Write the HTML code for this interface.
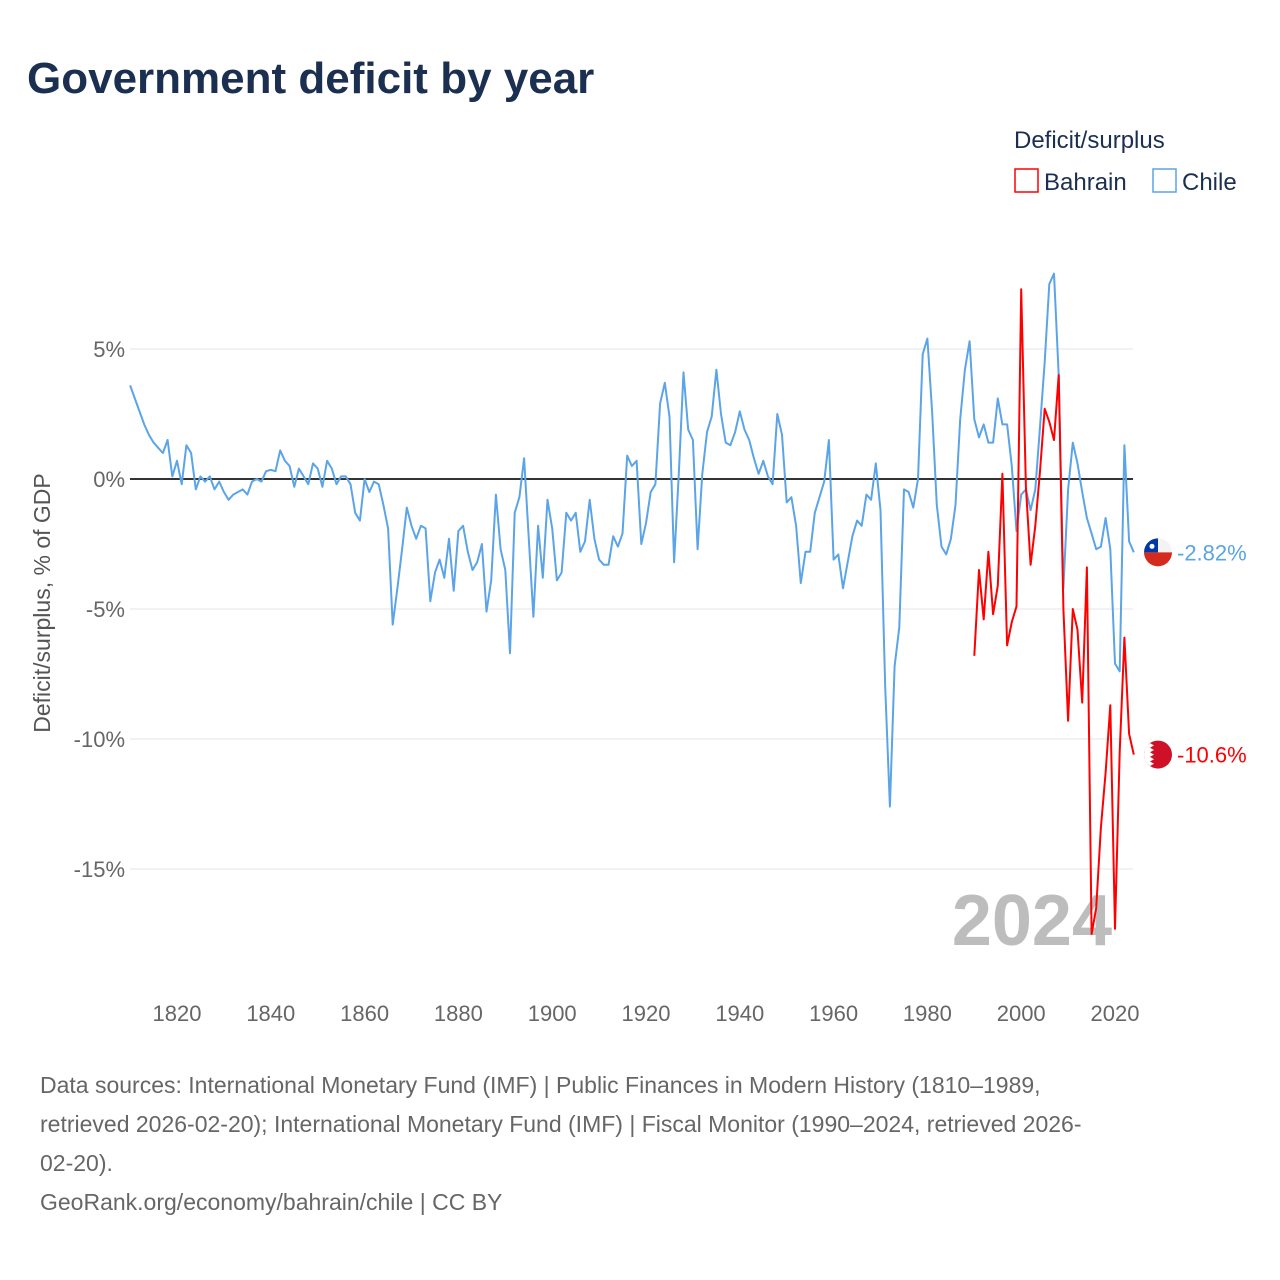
<!DOCTYPE html>
<html><head><meta charset="utf-8">
<style>
body{margin:0;background:#fff;font-family:"Liberation Sans",sans-serif;}
#wrap{position:relative;width:1280px;height:1280px;overflow:hidden;}
</style></head>
<body>
<div id="wrap">
<svg id="chart" width="1280" height="1280" viewBox="0 0 1280 1280">
<text x="27" y="93" font-size="44" font-weight="bold" fill="#1b2f50">Government deficit by year</text>
<text x="1014" y="148" font-size="24" fill="#1b2f50">Deficit/surplus</text>
<g>
<rect x="1015" y="169" width="23" height="23" fill="none" stroke="#ff0000" stroke-width="1.5"/>
<text x="1044" y="190" font-size="24" fill="#1b2f50">Bahrain</text></g>
<g>
<rect x="1153" y="169" width="23" height="23" fill="none" stroke="#5ba4e8" stroke-width="1.5"/>
<text x="1182" y="190" font-size="24" fill="#1b2f50">Chile</text></g>
<text transform="translate(50,603) rotate(-90)" text-anchor="middle" font-size="23" fill="#555">Deficit/surplus, % of GDP</text>
<g id="grid"></g>
<text x="1112" y="945" text-anchor="end" font-size="72" font-weight="bold" fill="#bdbdbd">2024</text>
<g id="series"></g>
<g id="ends"></g>
<g font-size="23" fill="#666">
<text x="40" y="1093">Data sources: International Monetary Fund (IMF) | Public Finances in Modern History (1810–1989,</text>
<text x="40" y="1132">retrieved 2026-02-20); International Monetary Fund (IMF) | Fiscal Monitor (1990–2024, retrieved 2026-</text>
<text x="40" y="1171">02-20).</text>
<text x="40" y="1210">GeoRank.org/economy/bahrain/chile | CC BY</text>
</g>
</svg>
</div>
<script>
const yTicks=[5,0,-5,-10,-15];
const yTickLabels=["5%","0%","-5%","-10%","-15%"];
const xTicks=[1820,1840,1860,1880,1900,1920,1940,1960,1980,2000,2020];
const chileStart=1810;
const chileValues=[3.6,3.1,2.6,2.1,1.7,1.4,1.2,1.0,1.5,0.1,0.7,-0.2,1.3,1.0,-0.4,0.1,-0.1,0.1,-0.4,-0.1,-0.5,-0.8,-0.6,-0.5,-0.4,-0.6,-0.1,0,-0.1,0.3,0.35,0.3,1.1,0.7,0.5,-0.3,0.4,0.1,-0.2,0.6,0.4,-0.3,0.7,0.4,-0.2,0.1,0.1,-0.2,-1.3,-1.6,0,-0.5,-0.1,-0.2,-1.0,-1.9,-5.6,-4.2,-2.7,-1.1,-1.8,-2.3,-1.8,-1.9,-4.7,-3.6,-3.1,-3.8,-2.3,-4.3,-2.0,-1.8,-2.8,-3.5,-3.2,-2.5,-5.1,-3.9,-0.6,-2.7,-3.5,-6.7,-1.3,-0.7,0.8,-2.3,-5.3,-1.8,-3.8,-0.8,-1.9,-3.9,-3.6,-1.3,-1.6,-1.3,-2.8,-2.4,-0.8,-2.3,-3.1,-3.3,-3.3,-2.2,-2.6,-2.1,0.9,0.5,0.7,-2.5,-1.7,-0.5,-0.2,2.9,3.7,2.4,-3.2,0.2,4.1,1.9,1.5,-2.7,0.2,1.8,2.4,4.2,2.5,1.4,1.3,1.8,2.6,1.9,1.5,0.8,0.2,0.7,0.1,-0.2,2.5,1.7,-0.9,-0.7,-1.8,-4.0,-2.8,-2.8,-1.3,-0.7,-0.1,1.5,-3.1,-2.9,-4.2,-3.2,-2.2,-1.6,-1.8,-0.6,-0.8,0.6,-1.2,-8.0,-12.6,-7.2,-5.7,-0.4,-0.5,-1.1,0,4.8,5.4,2.6,-1.0,-2.6,-2.9,-2.3,-1.0,2.3,4.2,5.3,2.3,1.6,2.1,1.4,1.4,3.1,2.1,2.1,0.5,-2.0,-0.6,-0.4,-1.2,-0.4,2.0,4.5,7.5,7.9,4.0,-4.2,-0.4,1.4,0.6,-0.5,-1.5,-2.1,-2.7,-2.6,-1.5,-2.7,-7.1,-7.4,1.3,-2.4,-2.82];
const bahrainStart=1990;
const bahrainValues=[-6.8,-3.5,-5.4,-2.8,-5.2,-4.1,0.2,-6.4,-5.5,-4.9,7.3,-0.3,-3.3,-1.8,0.3,2.7,2.2,1.5,4.0,-5.0,-9.3,-5.0,-5.8,-8.6,-3.4,-17.5,-16.5,-13.4,-11.3,-8.7,-17.3,-10.5,-6.1,-9.8,-10.6];
const endLabels=["-2.82%","-10.6%"];

const NS="http://www.w3.org/2000/svg";
const xS=y=>177+(y-1820)*4.69;
const yS=v=>479-v*26;
function mk(tag,attrs,parent){const e=document.createElementNS(NS,tag);for(const k in attrs)e.setAttribute(k,attrs[k]);parent.appendChild(e);return e;}
const grid=document.getElementById('grid');
yTicks.forEach((t,i)=>{
  const l=mk('line',{x1:130,x2:1133,y1:yS(t),y2:yS(t),stroke:t===0?'#333':'#e6e6e6','stroke-width':t===0?2:1},grid);
  
  
  const tx=mk('text',{x:125,y:yS(t)+8,'text-anchor':'end','font-size':22,fill:'#666'},grid);
  tx.textContent=yTickLabels[i];
  
  
});
xTicks.forEach(t=>{
  const tx=mk('text',{x:xS(t),y:1021,'text-anchor':'middle','font-size':22,fill:'#666'},grid);
  tx.textContent=t;
  
  
});
const series=document.getElementById('series');
function line(start,vals,color,name){
  const pts=vals.map((v,i)=>xS(start+i).toFixed(1)+','+yS(v).toFixed(1)).join(' ');
  const p=mk('polyline',{points:pts,fill:'none',stroke:color,'stroke-width':2,'stroke-linejoin':'round'},series);
  
  
}
line(chileStart,chileValues,'#5ba4e8','chile-line');
line(bahrainStart,bahrainValues,'#ff0000','bahrain-line');
const ends=document.getElementById('ends');
function endMark(val,color,label,name,flag){
  const cy=yS(val);
  const g=mk('g',{},ends);
  
  
  if(flag==='cl'){
    mk('path',{d:`M1144 ${cy} a14 14 0 0 1 28 0 z`,fill:'#f3f3f3'},g);
    mk('path',{d:`M1144 ${cy} a14 14 0 0 0 28 0 z`,fill:'#d52b1e'},g);
    mk('path',{d:`M1144 ${cy} a14 14 0 0 1 14 -14 v14 z`,fill:'#0039a6'},g);
    mk('circle',{cx:1152,cy:cy-6,r:2.5,fill:'#fff'},g);
  } else {
    mk('circle',{cx:1158,cy:cy,r:14,fill:'#ce1126'},g);
    mk('path',{d:`M1144 ${cy} a14 14 0 0 1 6 -11.5 l4 2.3 -4 2.3 4 2.3 -4 2.3 4 2.3 -4 2.3 4 2.3 -4 2.3 4 2.3 -4 2.3 a14 14 0 0 1 -6 -11.5z`,fill:'#fff'},g);
  }
  const t=mk('text',{x:1177,y:cy+8,'font-size':22,fill:color},g);
  t.textContent=label;
}
endMark(chileValues[chileValues.length-1],'#5ba4e8',endLabels[0],'chile-end-label','cl');
endMark(bahrainValues[bahrainValues.length-1],'#ff0000',endLabels[1],'bahrain-end-label','bh');
</script>
</body></html>
